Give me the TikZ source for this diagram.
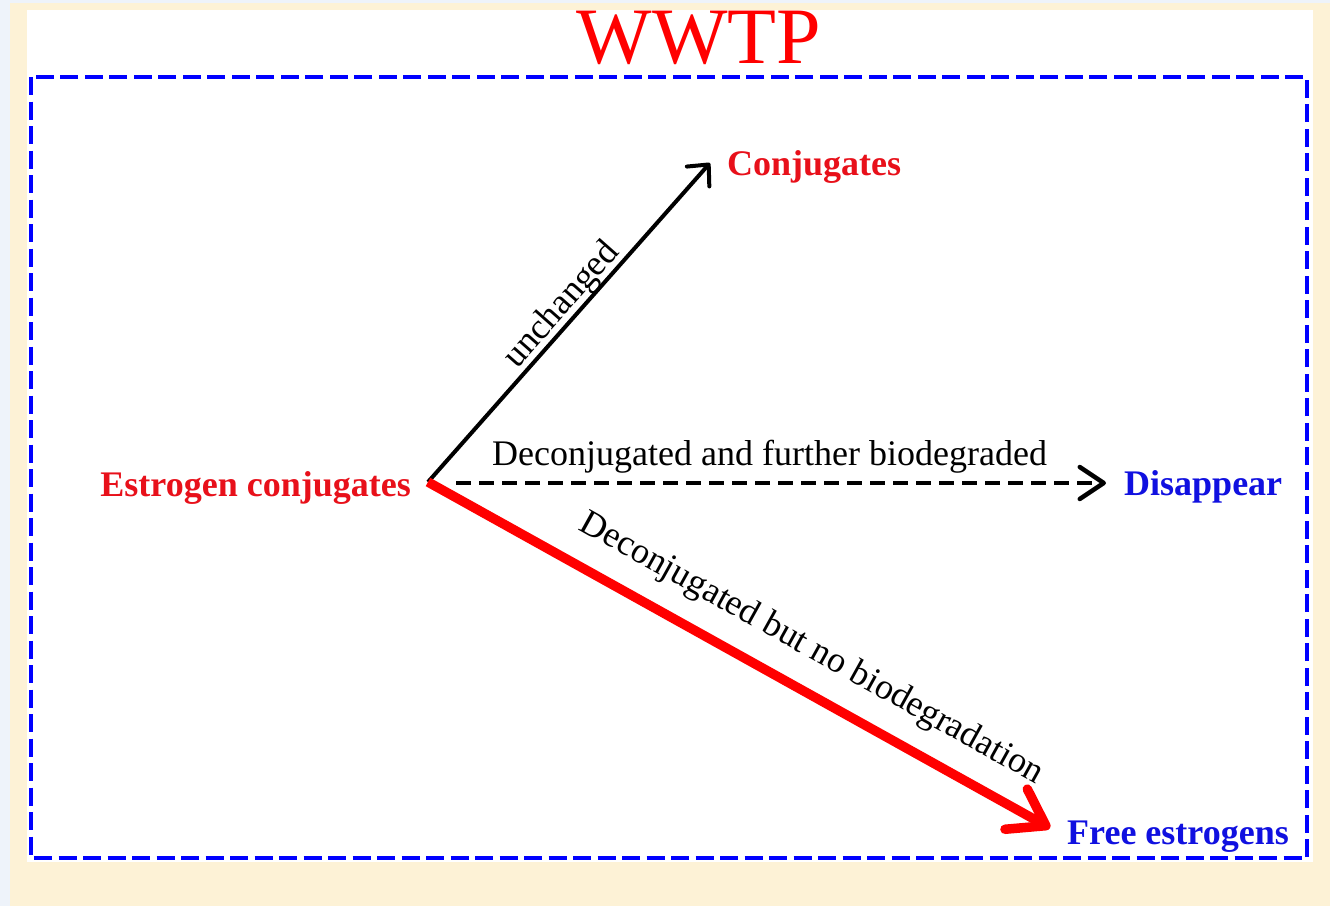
\documentclass[tikz,border=0pt]{standalone}
\usepackage{fontspec}
\setmainfont{Liberation Serif}
\usetikzlibrary{arrows.meta}
\definecolor{bgblue}{HTML}{EEF3FA}
\definecolor{beige}{HTML}{FDF2D6}
\definecolor{txtred}{HTML}{E8101A}
\definecolor{txtblue}{HTML}{1010E0}
\begin{document}
\begin{tikzpicture}[x=1pt,y=-1pt,
  lbl/.style={font=\fontsize{36}{40}\selectfont\bfseries, inner sep=0pt},
  arrowtext/.style={font=\fontsize{36}{40}\selectfont, inner sep=0pt, text=black},
  frame/.style={draw=blue, line width=4.5pt, dash pattern=on 18pt off 6.5pt},
  blackarrow/.style={draw=black, line width=4pt, -{Straight Barb[length=16pt,width=30pt,round]}},
  dasharrow/.style={draw=black, line width=4.5pt, dash pattern=on 15pt off 8pt, -{Straight Barb[length=24pt,width=32pt,round]}},
  redarrow/.style={draw=red, line width=9.5pt, -{Straight Barb[length=34pt,width=46pt,round]}}
]
\useasboundingbox (0,0) rectangle (1330,906);
\fill[bgblue] (0,0) rectangle (1330,906);
\fill[beige] (10,3) rectangle (1330,906);
\fill[white] (27,10) rectangle (1313,862);
\draw[frame] (31,77) rectangle (1307,858);

\node[inner sep=0pt, anchor=base, text=red, font=\fontsize{80}{90}\selectfont] (title) at (699,63) {WWTP};

\node[lbl, text=txtred, anchor=base east] (src) at (411,496) {Estrogen conjugates};
\node[lbl, text=txtred, anchor=base west] (conj) at (727,175) {Conjugates};
\node[lbl, text=txtblue, anchor=base west] (dis) at (1124,495) {Disappear};
\node[lbl, text=txtblue, anchor=base west] (free) at (1067,844) {Free estrogens};

\coordinate (o) at (428,482);
\coordinate (ds) at (456,483);
\coordinate (tc) at (710,163);
\coordinate (td) at (1106,483);
\coordinate (tf) at (1050,828);

\draw[blackarrow] (o) -- node[arrowtext, pos=0.52, sloped, above=-2pt] (lu) {unchanged} (tc);
\draw[dasharrow] (ds) -- (td);
\node[arrowtext, anchor=base west] (ld) at (492,465) {Deconjugated and further biodegraded};
\draw[redarrow] (o) -- node[arrowtext, pos=0.585, sloped, above=19pt] (lf) {Deconjugated but no biodegradation} (tf);
\end{tikzpicture}
\end{document}
